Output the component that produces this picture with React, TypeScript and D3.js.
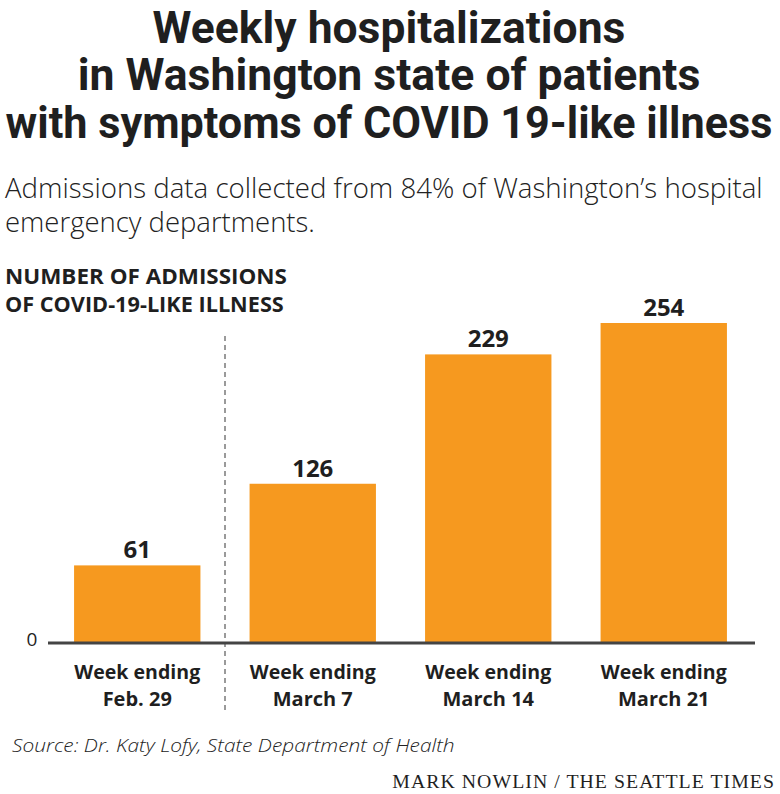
import React, { useLayoutEffect, useRef, useState } from "react";
import * as d3 from "d3";

const categories: string[] = ["Feb. 29", "March 7", "March 14", "March 21"];
const values: number[] = [61, 126, 229, 254];
const catLine1 = "Week ending";
const titleLines: string[] = [
  "Weekly hospitalizations",
  "in Washington state of patients",
  "with symptoms of COVID 19-like illness",
];
const subtitleLines: string[] = [
  "Admissions data collected from 84% of Washington’s hospital",
  "emergency departments.",
];
const axisTitleLines: string[] = ["NUMBER OF ADMISSIONS", "OF COVID-19-LIKE ILLNESS"];
const yTicks: number[] = [0];
const sourceText = "Source: Dr. Katy Lofy, State Department of Health";
const creditText = "MARK NOWLIN / THE SEATTLE TIMES";

const W = 780;
const H = 794;
const SANS = "'Open Sans', 'Noto Sans', 'DejaVu Sans', sans-serif";
const TITLE = "Roboto, 'Open Sans', sans-serif";
const SERIF = "'Liberation Serif', 'DejaVu Serif', serif";
const BAR = "#F6991F";
const INK = "#1f1f1f";

type FitProps = {
  x: number;
  y: number;
  width: number;
  anchor?: "start" | "middle" | "end";
  children: string;
  [k: string]: any;
};

function FitText({ x, y, width, anchor = "start", children, ...rest }: FitProps) {
  const ref = useRef<SVGTextElement>(null);
  const [sx, setSx] = useState(1);
  useLayoutEffect(() => {
    if (ref.current) {
      const w = ref.current.getComputedTextLength();
      if (w > 0) setSx(width / w);
    }
  }, [width, children]);
  return (
    <g transform={`translate(${x},${y}) scale(${sx},1)`}>
      <text ref={ref} x={0} y={0} textAnchor={anchor} {...rest}>
        {children}
      </text>
    </g>
  );
}

export default function App() {
  const x = d3
    .scaleBand<string>()
    .domain(categories)
    .range([49.5, 751.5])
    .paddingInner(0.28)
    .paddingOuter(0.14);
  const y = d3.scaleLinear().domain([0, 254]).range([642, 323]);
  const bw = x.bandwidth();
  const dashX = ((x(categories[0]) as number) + bw + (x(categories[1]) as number)) / 2;

  const titleW = [473, 623, 767];
  const titleBase = [43, 90, 138];
  const subW = [758, 310];
  const subBase = [198, 232];
  const axW = [282, 279];
  const axBase = [284, 312];

  return (
    <svg
      width={W}
      height={H}
      viewBox={`0 0 ${W} ${H}`}
      style={{ position: "absolute", left: 0, top: 0, background: "#fff" }}
    >
      <rect x={0} y={0} width={W} height={H} fill="#fff" />
      {titleLines.map((t, i) => (
        <FitText
          key={"t" + i}
          x={389}
          y={titleBase[i]}
          width={titleW[i]}
          anchor="middle"
          fontFamily={TITLE}
          fontWeight={700}
          fontSize={44}
          fill={INK}
        >
          {t}
        </FitText>
      ))}
      {subtitleLines.map((t, i) => (
        <FitText
          key={"s" + i}
          x={5}
          y={subBase[i]}
          width={subW[i]}
          fontFamily={SANS}
          fontWeight={300}
          fontSize={27}
          fill="#222"
        >
          {t}
        </FitText>
      ))}
      {axisTitleLines.map((t, i) => (
        <FitText
          key={"a" + i}
          x={5}
          y={axBase[i]}
          width={axW[i]}
          fontFamily={SANS}
          fontWeight={700}
          fontSize={22}
          fill={INK}
        >
          {t}
        </FitText>
      ))}

      {/* dashed divider */}
      <line
        x1={dashX}
        x2={dashX}
        y1={336}
        y2={710}
        stroke="#9a9a9a"
        strokeWidth={2}
        strokeDasharray="5 4"
      />

      {/* bars */}
      {categories.map((c, i) => (
        <rect
          key={"b" + c}
          x={x(c) as number}
          y={y(values[i])}
          width={bw}
          height={y(0) - y(values[i])}
          fill={BAR}
        />
      ))}

      {/* baseline */}
      <line x1={48} x2={755} y1={y(0) + 1} y2={y(0) + 1} stroke="#444" strokeWidth={3} />
      {yTicks.map((t) => (
        <text
          key={"yt" + t}
          x={32}
          y={y(t) + 4}
          textAnchor="middle"
          fontFamily={SANS}
          fontSize={19}
          fill={INK}
        >
          {t}
        </text>
      ))}

      {/* value labels */}
      {categories.map((c, i) => (
        <text
          key={"v" + c}
          x={(x(c) as number) + bw / 2}
          y={y(values[i]) - 7}
          textAnchor="middle"
          fontFamily={SANS}
          fontWeight={700}
          fontSize={24}
          fill={INK}
        >
          {values[i]}
        </text>
      ))}

      {/* category labels */}
      {categories.map((c) => (
        <g key={"c" + c}>
          <FitText
            x={(x(c) as number) + bw / 2}
            y={679}
            width={126}
            anchor="middle"
            fontFamily={SANS}
            fontWeight={700}
            fontSize={20}
            fill={INK}
          >
            {catLine1}
          </FitText>
          <text
            x={(x(c) as number) + bw / 2}
            y={706}
            textAnchor="middle"
            fontFamily={SANS}
            fontWeight={700}
            fontSize={20}
            fill={INK}
          >
            {c}
          </text>
        </g>
      ))}

      <FitText
        x={12}
        y={752}
        width={443}
        fontFamily={SANS}
        fontStyle="italic"
        fontWeight={300}
        fontSize={19}
        fill="#222"
      >
        {sourceText}
      </FitText>
      <FitText
        x={775}
        y={788}
        width={383}
        anchor="end"
        fontFamily={SERIF}
        fontSize={19}
        letterSpacing={1}
        fill={INK}
      >
        {creditText}
      </FitText>
    </svg>
  );
}
